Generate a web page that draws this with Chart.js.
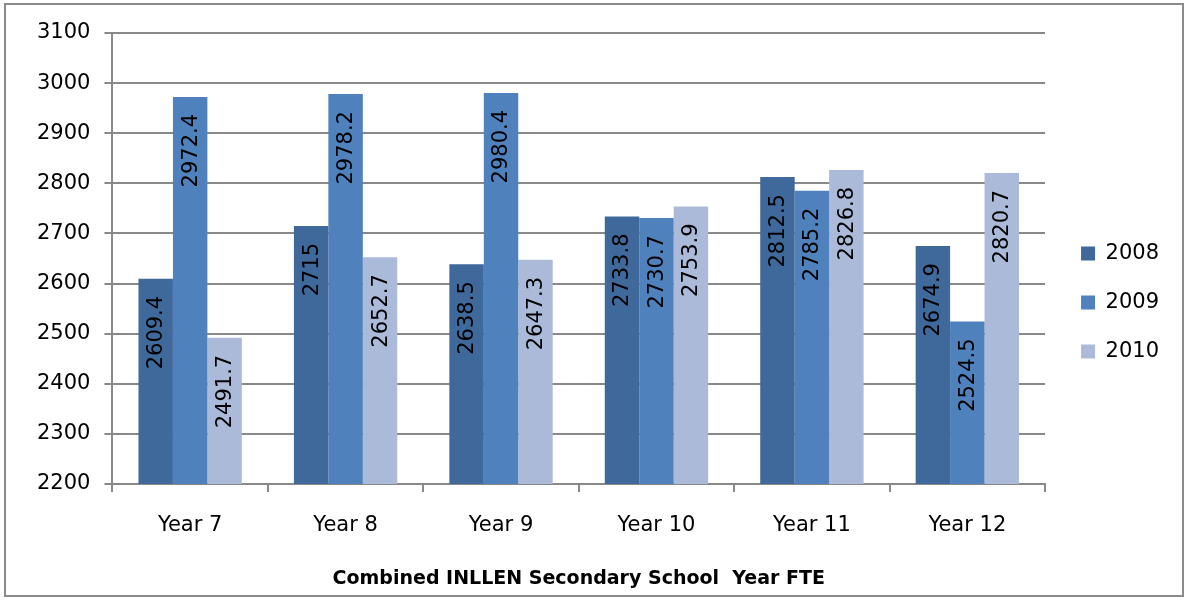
<!DOCTYPE html>
<html>
<head>
	<meta charset="utf-8">
	<title>INLLEN Year FTE</title>
	<script src="https://cdn.jsdelivr.net/npm/chart.js@4.4.1/dist/chart.umd.min.js"></script>
	<style>
		body { margin: 0; background: #fff; }
	</style>
</head>
<body>

	<canvas id="mychart" width="1187" height="600"></canvas>

	<script type="text/javascript">

		const years = ['Year 7', 'Year 8', 'Year 9', 'Year 10', 'Year 11', 'Year 12'];
		const fte2008 = [2609.4, 2715, 2638.5, 2733.8, 2812.5, 2674.9];
		const fte2009 = [2972.4, 2978.2, 2980.4, 2730.7, 2785.2, 2524.5];
		const fte2010 = [2491.7, 2652.7, 2647.3, 2753.9, 2826.8, 2820.7];
		const seriesNames = ['2008', '2009', '2010'];

		const FONT = 'DejaVu Sans';
		const GRID = '#898989';

		// white page + thin frame round the whole chart
		const frame = {
			id: 'frame',
			beforeDraw(chart) {
				const ctx = chart.ctx;
				ctx.save();
				ctx.fillStyle = '#fff';
				ctx.fillRect(0, 0, chart.width, chart.height);
				ctx.strokeStyle = '#8a8a8a';
				ctx.lineWidth = 2;
				ctx.strokeRect(5, 4, 1178, 592);
				ctx.restore();
			}
		};

		// nudge the legend a little right and up, like the excel one
		const legendNudge = {
			id: 'legendNudge',
			afterLayout(chart) {
				const lg = chart.legend;
				lg.left += 8;
				lg.right += 8;
				lg.top -= 9;
				lg.bottom -= 9;
			}
		};

		// rotated value labels, inside the end of each bar
		const barLabels = {
			id: 'barLabels',
			afterDatasetsDraw(chart) {
				const ctx = chart.ctx;
				ctx.save();
				ctx.font = '21px "' + FONT + '"';
				ctx.fillStyle = '#000';
				ctx.textAlign = 'right';
				ctx.textBaseline = 'middle';
				chart.data.datasets.forEach((ds, i) => {
					chart.getDatasetMeta(i).data.forEach((bar, j) => {
						ctx.save();
						ctx.translate(bar.x, bar.y + 17);
						ctx.rotate(-Math.PI / 2);
						ctx.fillText(String(ds.data[j]), 0, 1);
						ctx.restore();
					});
				});
				ctx.restore();
			}
		};

		const ctx = document.getElementById('mychart').getContext('2d');
		const myChart = new Chart(ctx, {
			type: 'bar',
			data: {
				labels: years,
				datasets: [
					{ label: seriesNames[0], data: fte2008, backgroundColor: '#40699b' },
					{ label: seriesNames[1], data: fte2009, backgroundColor: '#4f81bd' },
					{ label: seriesNames[2], data: fte2010, backgroundColor: '#aabad8' }
				]
			},
			options: {
				responsive: false,
				animation: false,
				layout: { padding: { top: 33, left: 23, right: 26, bottom: 10 } },
				datasets: { bar: { categoryPercentage: 0.665, barPercentage: 1 } },
				plugins: {
					tooltip: { enabled: false },
					legend: {
						position: 'right',
						labels: {
							boxWidth: 14,
							boxHeight: 14,
							padding: 28,
							color: '#000',
							font: { family: FONT, size: 21 }
						}
					}
				},
				scales: {
					x: {
						grid: { display: true, drawOnChartArea: false, color: GRID, lineWidth: 2, tickLength: 8 },
						border: { color: GRID, width: 2 },
						ticks: { color: '#000', font: { family: FONT, size: 21 }, padding: 21 },
						title: {
							display: true,
							text: 'Combined INLLEN Secondary School  Year FTE',
							color: '#000',
							font: { family: FONT, size: 19, weight: 'bold' },
							padding: { top: 8, bottom: 0 }
						}
					},
					y: {
						min: 2200,
						max: 3100,
						grid: { color: GRID, lineWidth: 2, tickLength: 8 },
						border: { color: GRID, width: 2 },
						ticks: {
							stepSize: 100,
							color: '#000',
							font: { family: FONT, size: 21 },
							padding: 14,
							callback: v => String(v)
						}
					}
				}
			},
			plugins: [frame, legendNudge, barLabels]
		});

	</script>

</body>
</html>
